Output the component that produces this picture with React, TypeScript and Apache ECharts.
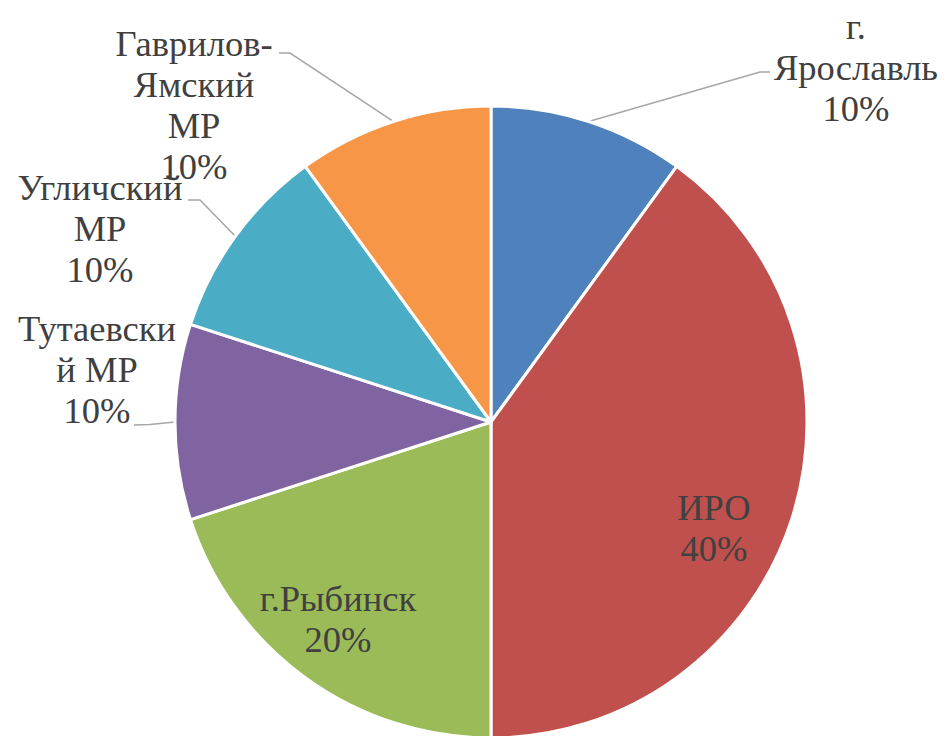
import React, { useEffect, useRef } from "react";
import * as echarts from "echarts";

const categories = [
  "г. Ярославль",
  "ИРО",
  "г.Рыбинск",
  "Тутаевский МР",
  "Угличский МР",
  "Гаврилов-Ямский МР",
];
const values = [10, 40, 20, 10, 10, 10];
const labelLines = [
  "г.\nЯрославль",
  "ИРО",
  "г.Рыбинск",
  "Тутаевски\nй МР",
  "Угличский\nМР",
  "Гаврилов-\nЯмский\nМР",
];
const colors = ["#4F81BD", "#C0504D", "#9BBB59", "#8064A2", "#4BACC6", "#F79646"];
const insideLabel = [false, true, true, false, false, false];

// label placement (layout, pixels): [centerX, topY, bends of the leader line]
const labelPlacement: { x: number; y: number; line: number[][] }[] = [
  { x: 856, y: 6, line: [[760, 72], [770, 72]] },
  { x: 714, y: 487, line: [] },
  { x: 338, y: 578, line: [] },
  { x: 97, y: 308, line: [[150, 424.5], [134, 425]] },
  { x: 100, y: 167, line: [[200, 200], [188, 200]] },
  { x: 194, y: 23, line: [[290, 53], [279, 53]] },
];

const FONT = "Liberation Serif";

export default function App() {
  const ref = useRef<HTMLDivElement>(null);
  useEffect(() => {
    if (!ref.current) return;
    const chart = echarts.init(ref.current, undefined, { renderer: "svg" });
    const data = categories.map((name, i) => ({
      name,
      value: values[i],
      itemStyle: { color: colors[i] },
      label: { position: insideLabel[i] ? "inside" : "outside" },
      labelLine: { show: !insideLabel[i] },
    }));
    chart.setOption({
      animation: false,
      backgroundColor: "#ffffff",
      textStyle: { fontFamily: FONT },
      series: [
        {
          type: "pie",
          center: [491, 422],
          radius: 316,
          startAngle: 90,
          clockwise: true,
          avoidLabelOverlap: false,
          itemStyle: { borderColor: "#ffffff", borderWidth: 3 },
          label: {
            show: true,
            formatter: (p: any) => `${labelLines[p.dataIndex]}\n${Math.round(p.percent)}%`,
            fontFamily: FONT,
            fontSize: 36.5,
            lineHeight: 41,
            color: "#404040",
            align: "center",
          },
          labelLine: {
            show: true,
            lineStyle: { color: "#A6A6A6", width: 1.5 },
            length: 20,
            length2: 10,
          },
          labelLayout: (params: any) => {
            const pl = labelPlacement[params.dataIndex];
            const res: any = {
              x: pl.x,
              y: pl.y,
              align: "center",
              verticalAlign: "top",
            };
            if (pl.line.length && params.labelLinePoints) {
              res.labelLinePoints = [params.labelLinePoints[0], ...pl.line];
            }
            return res;
          },
          data,
        },
      ],
    });
    return () => chart.dispose();
  }, []);
  return (
    <div
      ref={ref}
      style={{ position: "fixed", left: 0, top: 0, width: 947, height: 736, background: "#fff" }}
    />
  );
}
